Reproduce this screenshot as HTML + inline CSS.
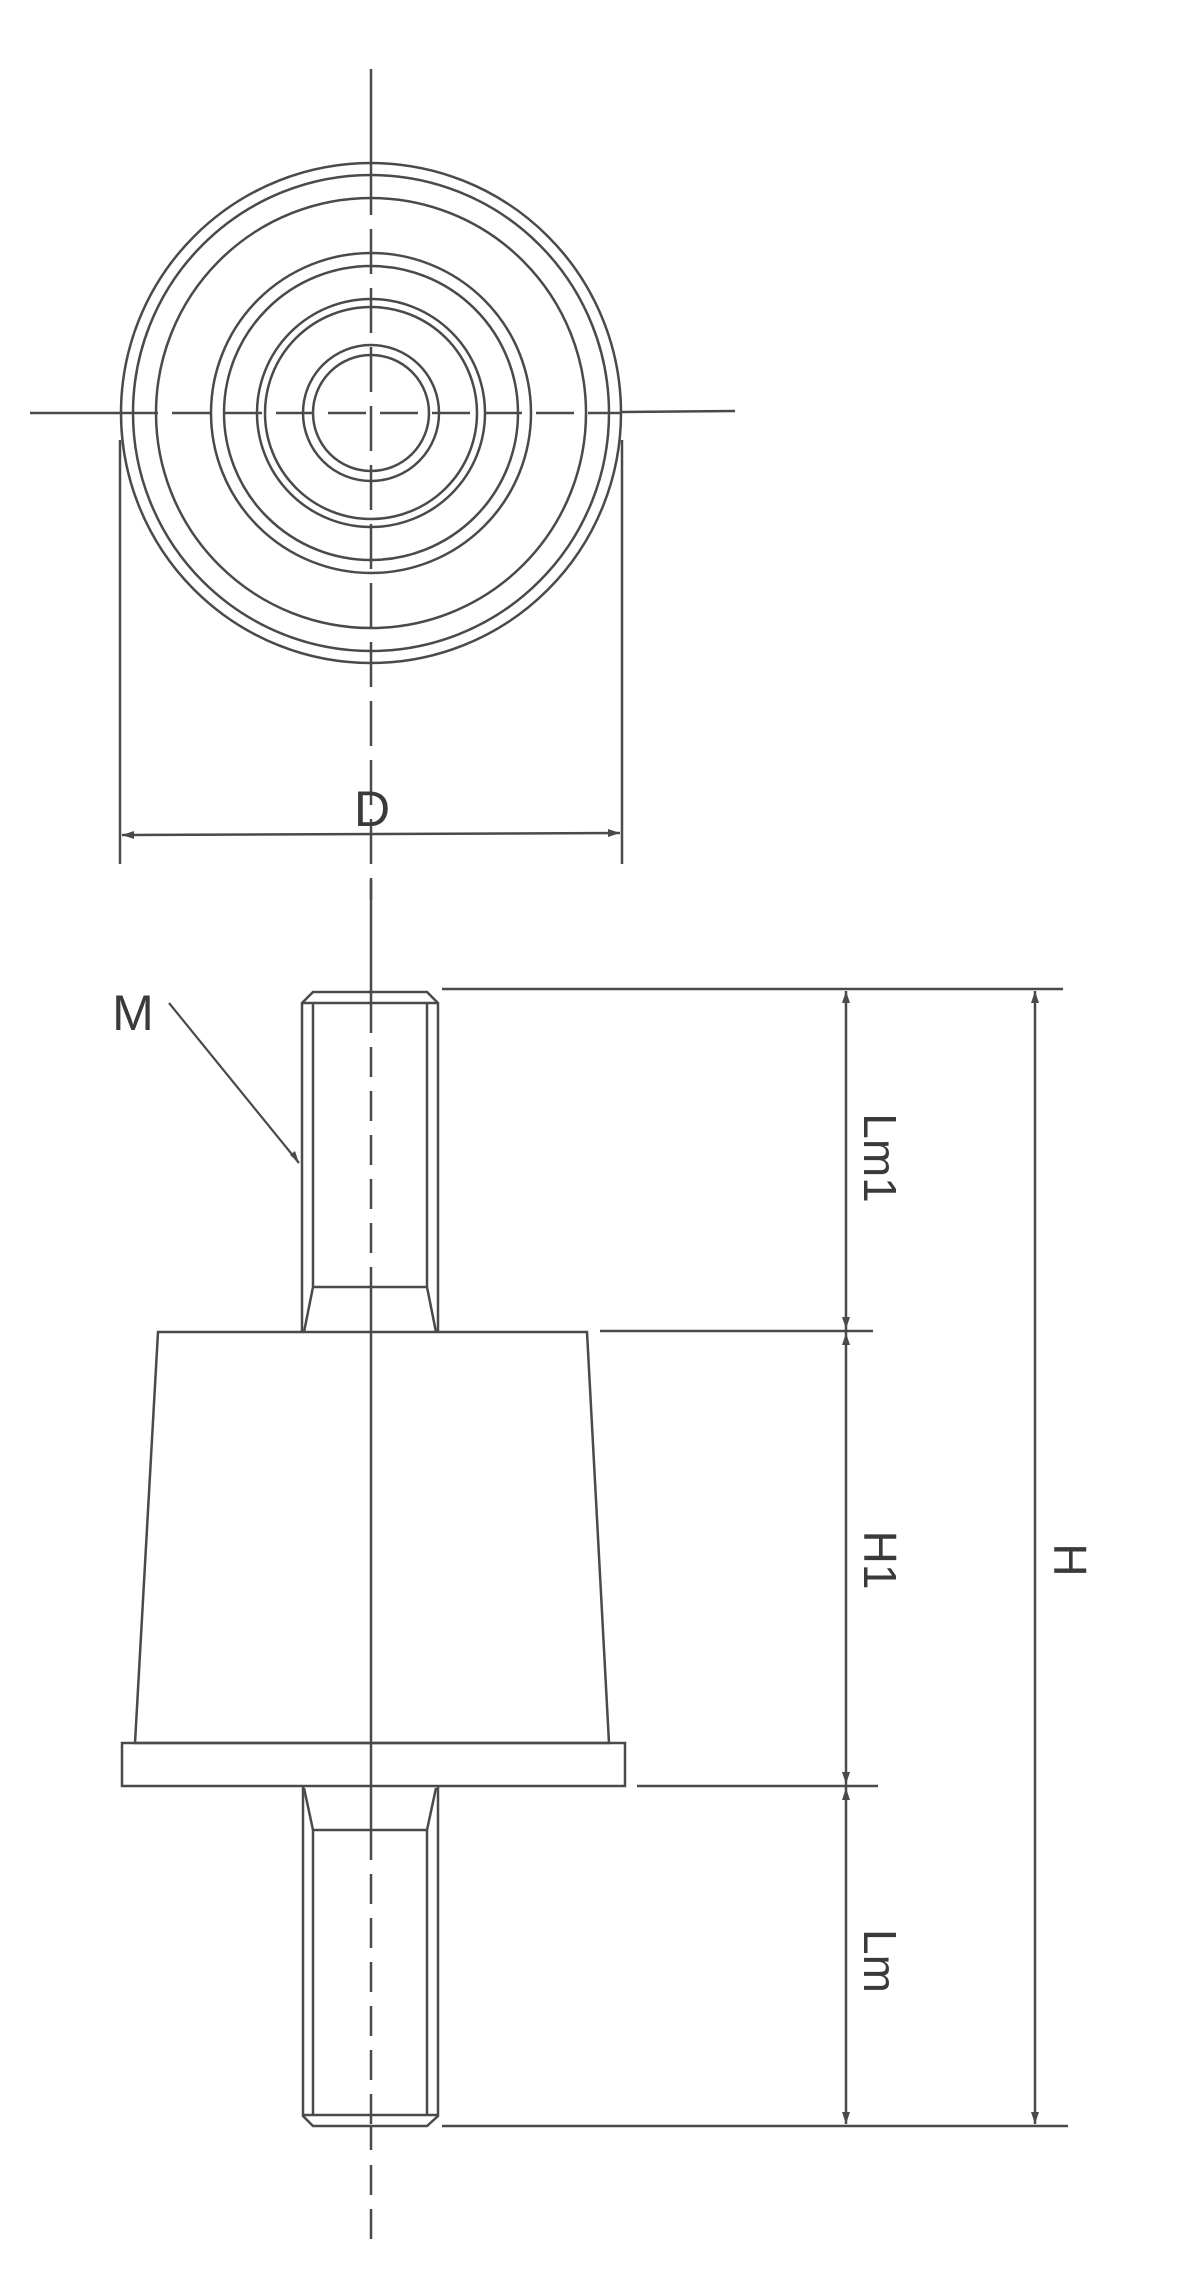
<!DOCTYPE html>
<html><head><meta charset="utf-8"><style>
html,body{margin:0;padding:0;background:#fff;}
svg{display:block;}
text{font-family:"Liberation Sans",sans-serif;fill:#3a3a3a;}
</style></head><body>
<svg width="1185" height="2273" viewBox="0 0 1185 2273" xmlns="http://www.w3.org/2000/svg">
<g fill="none" stroke="#4a4a4a" stroke-width="2.5">
<circle cx="371" cy="413" r="250"/>
<circle cx="371" cy="413" r="238"/>
<circle cx="371" cy="413" r="215"/>
<circle cx="371" cy="413" r="160"/>
<circle cx="371" cy="413" r="147"/>
<circle cx="371" cy="413" r="114"/>
<circle cx="371" cy="413" r="106"/>
<circle cx="371" cy="413" r="68"/>
<circle cx="371" cy="413" r="58"/>
<line x1="371" y1="69" x2="371" y2="170"/>
<line x1="371" y1="170" x2="371" y2="900" stroke-dasharray="45,14"/>
<line x1="30" y1="413" x2="120" y2="413"/>
<line x1="120" y1="413" x2="622" y2="413" stroke-dasharray="38,14"/>
<line x1="622" y1="412" x2="735" y2="411"/>
<line x1="120" y1="440" x2="120" y2="864"/>
<line x1="622" y1="440" x2="622" y2="864"/>
<line x1="122" y1="835" x2="620" y2="833"/>
<line x1="371" y1="880" x2="371" y2="1003"/>
<line x1="371" y1="1003" x2="371" y2="1290" stroke-dasharray="30,14"/>
<line x1="371" y1="1290" x2="371" y2="1830"/>
<line x1="371" y1="1830" x2="371" y2="2125" stroke-dasharray="30,14"/>
<line x1="371" y1="2125" x2="371" y2="2150"/>
<line x1="371" y1="2165" x2="371" y2="2247" stroke-dasharray="30,14"/>
<path d="M302 1332 L302 1003 L313 992 L427 992 L438 1003 L438 1332"/>
<line x1="302" y1="1003" x2="438" y2="1003"/>
<line x1="313" y1="1003" x2="313" y2="1287"/>
<line x1="427" y1="1003" x2="427" y2="1287"/>
<line x1="313" y1="1287" x2="427" y2="1287"/>
<line x1="313" y1="1287" x2="304" y2="1332"/>
<line x1="427" y1="1287" x2="436" y2="1332"/>
<path d="M158 1332 L587 1332 L609 1743 L135 1743 Z"/>
<rect x="122" y="1743" width="503" height="43"/>
<path d="M303 1786 L303 2116 L313 2126 L427 2126 L438 2116 L438 1786"/>
<line x1="303" y1="2115" x2="438" y2="2115"/>
<line x1="313" y1="1830" x2="313" y2="2115"/>
<line x1="427" y1="1830" x2="427" y2="2115"/>
<line x1="313" y1="1830" x2="427" y2="1830"/>
<line x1="313" y1="1830" x2="304" y2="1788"/>
<line x1="427" y1="1830" x2="436" y2="1788"/>
<line x1="442" y1="989" x2="1063" y2="989"/>
<line x1="600" y1="1331" x2="873" y2="1331"/>
<line x1="637" y1="1786" x2="878" y2="1786"/>
<line x1="442" y1="2126" x2="1068" y2="2126"/>
<line x1="846" y1="991" x2="846" y2="2124"/>
<line x1="1035" y1="991" x2="1035" y2="2124"/>
<line x1="169" y1="1003" x2="299" y2="1163" stroke-width="2.2"/>
</g>
<g fill="#4a4a4a">
<path d="M122 835 l12 -4 l0 8 z"/><path d="M620 833 l-12 -4 l0 8 z"/>
<path d="M846 991 l-4 12 l8 0 z"/><path d="M846 1329 l-4 -12 l8 0 z"/>
<path d="M846 1333 l-4 12 l8 0 z"/><path d="M846 1784 l-4 -12 l8 0 z"/>
<path d="M846 1788 l-4 12 l8 0 z"/><path d="M846 2124 l-4 -12 l8 0 z"/>
<path d="M1035 991 l-4 12 l8 0 z"/><path d="M1035 2124 l-4 -12 l8 0 z"/>
<path d="M299 1163 l-4 -12 l-5 4 z"/>
</g>
<text x="372" y="826" font-size="50" text-anchor="middle">D</text>
<text x="133" y="1030" font-size="50" text-anchor="middle">M</text>
<text transform="translate(864,1158) rotate(90)" font-size="46" text-anchor="middle">Lm1</text>
<text transform="translate(864,1560) rotate(90)" font-size="46" text-anchor="middle">H1</text>
<text transform="translate(864,1961) rotate(90)" font-size="46" text-anchor="middle">Lm</text>
<text transform="translate(1054,1560) rotate(90)" font-size="46" text-anchor="middle">H</text>
</svg>
</body></html>
